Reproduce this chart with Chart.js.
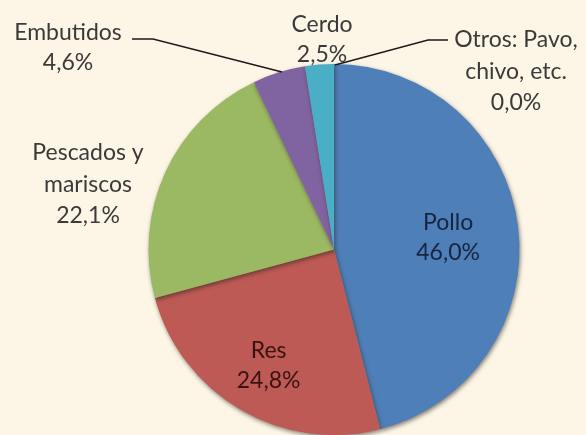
<!DOCTYPE html>
<html>
<head>
<meta charset="utf-8">
<script src="https://cdn.jsdelivr.net/npm/chart.js@4/dist/chart.umd.min.js"></script>
<style>
  html, body { margin:0; padding:0; background:#fdf6e7; }
  #wrap { width:586px; height:435px; position:relative; }
</style>
</head>
<body>
<div id="wrap"><canvas id="pie" width="586" height="435"></canvas></div>
<script>
// data (consumo de carnes, %)
const categories = ['Pollo', 'Res', 'Pescados y mariscos', 'Embutidos', 'Cerdo', 'Otros: Pavo, chivo, etc.'];
const shares = [46.0, 24.8, 22.1, 4.6, 2.5, 0.0];
const sliceColors = ['#4f7fb9', '#bd5a55', '#9bb863', '#8064a1', '#49aec6', '#f79646'];

// label text lines per slice
const labelLines = [
  ['Pollo'], ['Res'], ['Pescados y', 'mariscos'], ['Embutidos'], ['Cerdo'], ['Otros: Pavo,', 'chivo, etc.']
];
const fmtPct = v => v.toFixed(1).replace('.', ',') + '%';

// label placement: inside labels use a radius fraction, outside ones offset from pie centre
const LBL = [
  { inside:true, r:0.62, dy:2, color:'#16243f' },
  { inside:true, r:0.70, dy:4, color:'#3a1212' },
  { dx:-246, dy:-65, color:'#3a3a3a' },
  { dx:-266, dy:-202, color:'#3a3a3a', line:[[-202,-210.5],[-181,-210.5],[-52,-177.5]] },
  { dx:-12, dy:-210, color:'#3a3a3a' },
  { dx:182, dy:-178, color:'#3a3a3a', line:[[114,-209.5],[94,-209.5],[1,-184.5]] },
];

const shadowPlugin = {
  id:'pieShadow',
  beforeDatasetsDraw(chart) {
    const c = chart.ctx; c.save();
    c.shadowColor = 'rgba(40,30,20,0.55)'; c.shadowBlur = 4; c.shadowOffsetX = 1; c.shadowOffsetY = 2;
  },
  afterDatasetsDraw(chart) { chart.ctx.restore(); }
};

const labelPlugin = {
  id:'pieLabels',
  afterDatasetsDraw(chart) {
    const c = chart.ctx;
    const meta = chart.getDatasetMeta(0);
    const arc0 = meta.data[0];
    const cx = arc0.x, cy = arc0.y, R = arc0.outerRadius;
    c.save();
    c.font = '23px Lato, "Open Sans", sans-serif';
    c.textAlign = 'center'; c.textBaseline = 'middle';
    meta.data.forEach((arc, i) => {
      const L = LBL[i];
      const lines = labelLines[i].concat([fmtPct(shares[i])]);
      const lh = lines.length > 2 ? 31.5 : 30;
      let x, y;
      if (L.inside) {
        const mid = (arc.startAngle + arc.endAngle) / 2;
        x = cx + Math.cos(mid) * R * L.r;
        y = cy + Math.sin(mid) * R * L.r + L.dy;
      } else {
        x = cx + L.dx; y = cy + L.dy;
      }
      if (L.line) {
        c.strokeStyle = '#1a1a1a'; c.lineWidth = 1.3;
        c.beginPath();
        L.line.forEach((p, k) => k ? c.lineTo(cx + p[0], cy + p[1]) : c.moveTo(cx + p[0], cy + p[1]));
        c.stroke();
      }
      c.fillStyle = L.color;
      const top = y - (lines.length - 1) * lh / 2;
      lines.forEach((t, k) => c.fillText(t, x, top + k * lh));
    });
    c.restore();
  }
};

new Chart(document.getElementById('pie'), {
  type:'pie',
  data:{
    labels:categories,
    datasets:[{ data:shares, backgroundColor:sliceColors, borderWidth:0 }]
  },
  options:{
    responsive:false, animation:false,
    layout:{ padding:{ top:64, bottom:0, left:82, right:0 } },
    plugins:{ legend:{ display:false }, tooltip:{ enabled:false } }
  },
  plugins:[shadowPlugin, labelPlugin]
});
</script>
</body>
</html>
